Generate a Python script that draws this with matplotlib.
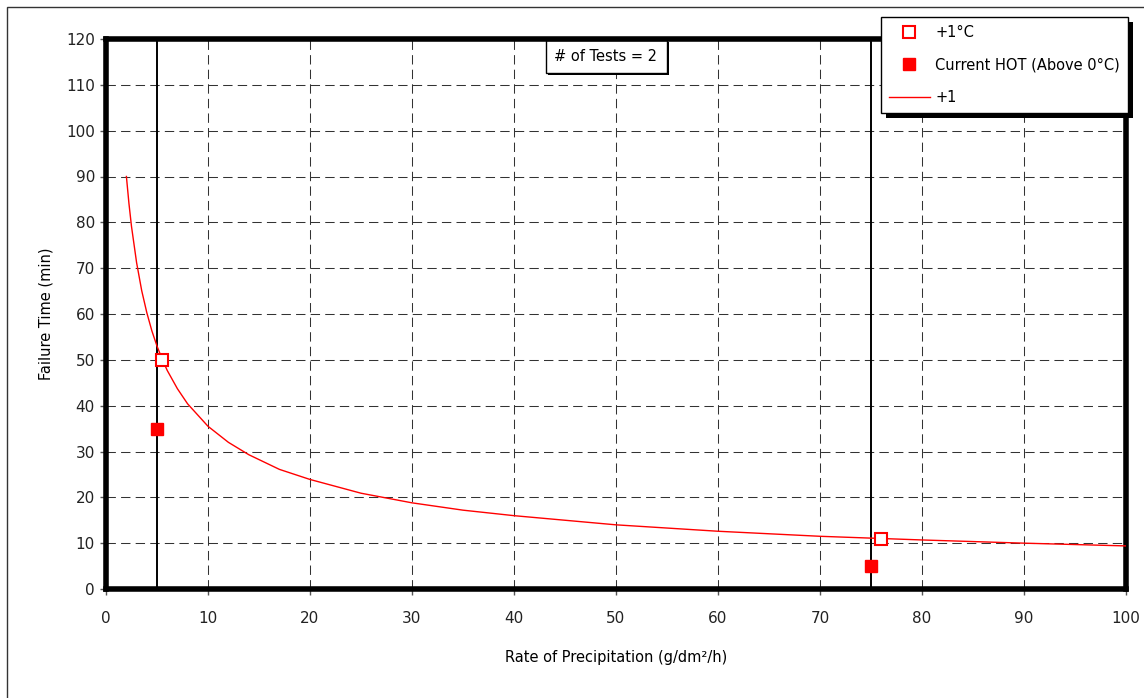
import matplotlib.pyplot as plt
from matplotlib.lines import Line2D
from matplotlib.patches import Rectangle

# fitted "+1" trend line
curve_x = [2, 2.25, 2.5, 3, 3.5, 4, 4.5, 5, 5.5, 6, 7, 8, 10, 12, 14, 17, 20, 25, 30, 35, 40, 50, 60, 70, 80, 90, 100]
curve_y = [90.0, 84.1, 79.1, 71.2, 65.1, 60.3, 56.3, 53.0, 50.2, 47.7, 43.7, 40.4, 35.5, 32.0, 29.3, 26.1,
           23.9, 20.9, 18.8, 17.2, 16.0, 14.0, 12.6, 11.5, 10.7, 10.0, 9.4]

# +1 C tests (open squares)
plus1_x = [5.5, 76]
plus1_y = [50, 11]

# current HOT tests (filled squares)
hot_x = [5, 75]
hot_y = [35, 5]

# vertical reference lines
vlines_x = [5, 75]

xticks = list(range(0, 101, 10))
yticks = list(range(0, 121, 10))

W, H = 1144, 698
fig = plt.figure(figsize=(W / 100, H / 100), dpi=100)
ax = fig.add_axes([106 / W, 1 - 589 / H, 1020 / W, 550 / H])

ax.plot(curve_x, curve_y, color="red", lw=1.0, zorder=3)
for xv in vlines_x:
    ax.axvline(xv, color="black", lw=1.4, zorder=2)
ax.plot(plus1_x, plus1_y, "s", ms=8, mfc="white", mec="red", mew=1.5, ls="none", zorder=4)
ax.plot(hot_x, hot_y, "s", ms=8, color="red", ls="none", zorder=4)

ax.set_xlim(0, 100)
ax.set_ylim(0, 120)
ax.set_xticks(xticks)
ax.set_yticks(yticks)
ax.grid(True, color="#333333", lw=0.75, linestyle=(0, (9, 5)))
ax.set_axisbelow(True)
for s in ax.spines.values():
    s.set_linewidth(4)
    s.set_color("black")
ax.tick_params(length=4, width=1, color="#555555", labelsize=11, labelcolor="#222222", pad=4)
ax.tick_params(axis="x", pad=12)

ax.set_xlabel("Rate of Precipitation (g/dm²/h)", fontsize=10.5, fontweight="medium", labelpad=17)
ax.set_ylabel("Failure Time (min)", fontsize=10.5, fontweight="medium", labelpad=9)

# "# of Tests" box
ax.add_patch(Rectangle((547.5 / W, 1 - 75 / H), 121 / W, 33 / H, transform=fig.transFigure,
                       fc="black", ec="none", clip_on=False, zorder=2.3))
ax.add_patch(Rectangle((545.7 / W, 1 - 73.3 / H), 121 / W, 33 / H, transform=fig.transFigure,
                       fc="white", ec="black", lw=1.0, clip_on=False, zorder=2.4))
ax.text(606 / W, 1 - 56.5 / H, "# of Tests = 2", transform=fig.transFigure,
        ha="center", va="center", fontsize=10.5, zorder=2.45)

# outer chart border (right/bottom fall outside the image)
fig.patches.append(Rectangle((6.5 / W, -0.05), 1.1, 1.05 - 6.5 / H, transform=fig.transFigure,
                             fill=False, ec="#333333", lw=1.0, zorder=0))

handles = [
    Line2D([], [], marker="s", ms=8, mfc="white", mec="red", mew=1.5, ls="none"),
    Line2D([], [], marker="s", ms=8, color="red", ls="none"),
    Line2D([], [], color="red", lw=1.0),
]
labels = ["+1°C", "Current HOT (Above 0°C)", "+1"]
leg = fig.legend(handles, labels, loc="upper left", bbox_to_anchor=(880.7 / W, 1 - 16.7 / H),
                 bbox_transform=fig.transFigure, fontsize=10.5, frameon=True, fancybox=False,
                 edgecolor="black", framealpha=1, borderaxespad=0, borderpad=0.55,
                 handlelength=2.8, handletextpad=0.4, labelspacing=1.2)
leg.get_frame().set_linewidth(1.0)
leg.set_zorder(6)

fig.canvas.draw()
bb = leg.get_window_extent()
fig.patches.append(Rectangle((bb.x0 + 5, bb.y0 - 5), bb.width, bb.height, transform=None,
                             fc="black", ec="none", zorder=5))

fig.savefig("out.png", dpi=100)
